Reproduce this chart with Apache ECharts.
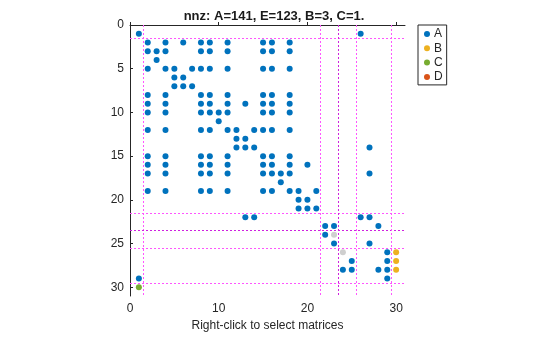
<!DOCTYPE html>
<html><head><meta charset="utf-8">
<script src="https://cdn.jsdelivr.net/npm/echarts@6/dist/echarts.min.js"></script>
<style>html,body{margin:0;padding:0;background:#fff}#c{width:560px;height:337px}</style>
</head><body><div id="c"></div>
<script>
// Column indices of A-entries, listed per row (row number = index)
const rowsA = [
  [],
  [1, 26],
  [2, 4, 6, 8, 9, 11, 15, 16, 18],
  [2, 3, 4, 8, 9, 11, 15, 16, 18],
  [3],
  [2, 4, 5, 7, 8, 9, 11, 15, 16, 18],
  [5, 6],
  [5, 6, 7],
  [2, 4, 8, 9, 11, 15, 16, 18],
  [2, 4, 8, 9, 11, 13, 15, 16, 18],
  [2, 4, 8, 9, 10, 11, 15, 16, 18],
  [10],
  [2, 4, 8, 9, 11, 12, 14, 15, 16, 18],
  [12, 13],
  [12, 13, 14, 27],
  [2, 4, 8, 9, 11, 15, 16, 18],
  [2, 4, 8, 9, 11, 15, 16, 18, 20],
  [2, 4, 8, 9, 11, 15, 16, 17, 18, 27],
  [17],
  [2, 4, 8, 9, 11, 15, 16, 18, 19, 21],
  [19, 20],
  [19, 20, 21],
  [13, 14, 26, 27],
  [22, 23, 28],
  [22],
  [23, 27],
  [29],
  [25, 29],
  [24, 25, 28, 29],
  [1, 29]
];
const pointsB = [[30, 26], [30, 27], [30, 28]];
const pointsC = [[1, 30]];
const pointsD = [];
const pointsE = [[23, 24], [24, 26]];
const cuts = [1.5, 21.5, 23.5, 25.5, 29.5];
const strongCut = 23.5;
const xTicks = [0, 10, 20, 30];
const yTicks = [0, 5, 10, 15, 20, 25, 30];
const titleText = 'nnz: A=141, E=123, B=3, C=1.';
const xLabel = 'Right-click to select matrices';

const pointsA = [];
rowsA.forEach((cols, r) => cols.forEach(c => pointsA.push([c, r])));

const font = 'Liberation Sans, Arial, sans-serif';
const lineData = [];
cuts.forEach(v => {
  const strong = v === strongCut;
  const ls = strong ? {color: '#d020e0', type: [2, 2], width: 1, opacity: 1}
                    : {color: '#ff55ff', type: [2, 2], width: 1, opacity: 1};
  lineData.push({xAxis: v, lineStyle: ls});
  lineData.push({yAxis: v, lineStyle: ls});
});

const chart = echarts.init(document.getElementById('c'), null, {renderer: 'canvas'});
const mk = (name, data, color, extra) => Object.assign({
  name, type: 'scatter', data, symbol: 'circle', symbolSize: 6,
  itemStyle: {color, opacity: 1}, animation: false, silent: true, z: 3
}, extra || {});
chart.setOption({
  animation: false,
  title: {text: titleText, left: 269, top: 5, textAlign: 'center',
    textStyle: {fontFamily: font, fontSize: 13, fontWeight: 'bold', color: '#1a1a1a'}},
  legend: {data: ['A', 'B', 'C', 'D'], orient: 'vertical', left: 418, top: 25,
    borderColor: '#262626', borderWidth: 1, padding: [2, 4, 1, 6], itemGap: 0.3,
    itemWidth: 6, itemHeight: 6, icon: 'circle', itemStyle: {borderWidth: 0, opacity: 1},
    textStyle: {fontFamily: font, fontSize: 12, color: '#262626', lineHeight: 14, padding: [0, 0, 0, -1]}},
  grid: {left: 130, top: 25, width: 275, height: 274, containLabel: false},
  xAxis: {type: 'value', min: 0, max: 31, position: 'bottom',
    name: xLabel, nameLocation: 'middle', nameGap: 24,
    nameTextStyle: {fontFamily: font, fontSize: 12, color: '#262626'},
    axisLine: {lineStyle: {color: '#262626', width: 1}},
    axisTick: {inside: true, length: 3, customValues: xTicks, lineStyle: {color: '#262626'}},
    axisLabel: {customValues: xTicks, fontFamily: font, fontSize: 12, color: '#262626', margin: 7},
    splitLine: {show: false}},
  yAxis: {type: 'value', min: 0, max: 31, inverse: true,
    axisLine: {show: true, lineStyle: {color: '#262626', width: 1}},
    axisTick: {show: true, inside: true, length: 3, customValues: yTicks, lineStyle: {color: '#262626'}},
    axisLabel: {customValues: yTicks, fontFamily: font, fontSize: 12, color: '#262626', margin: 6},
    splitLine: {show: false}},
  series: [
    {type: 'line', data: [], silent: true, z: 1, markLine: {silent: true, symbol: 'none', label: {show: false},
      animation: false, z: 1, data: lineData}},
    mk('E', pointsE, '#cfcfcf'),
    mk('A', pointsA, '#0072BD'),
    mk('B', pointsB, '#EDB120'),
    mk('C', pointsC, '#77AC30'),
    mk('D', pointsD, '#D95319')
  ]
});
</script></body></html>
